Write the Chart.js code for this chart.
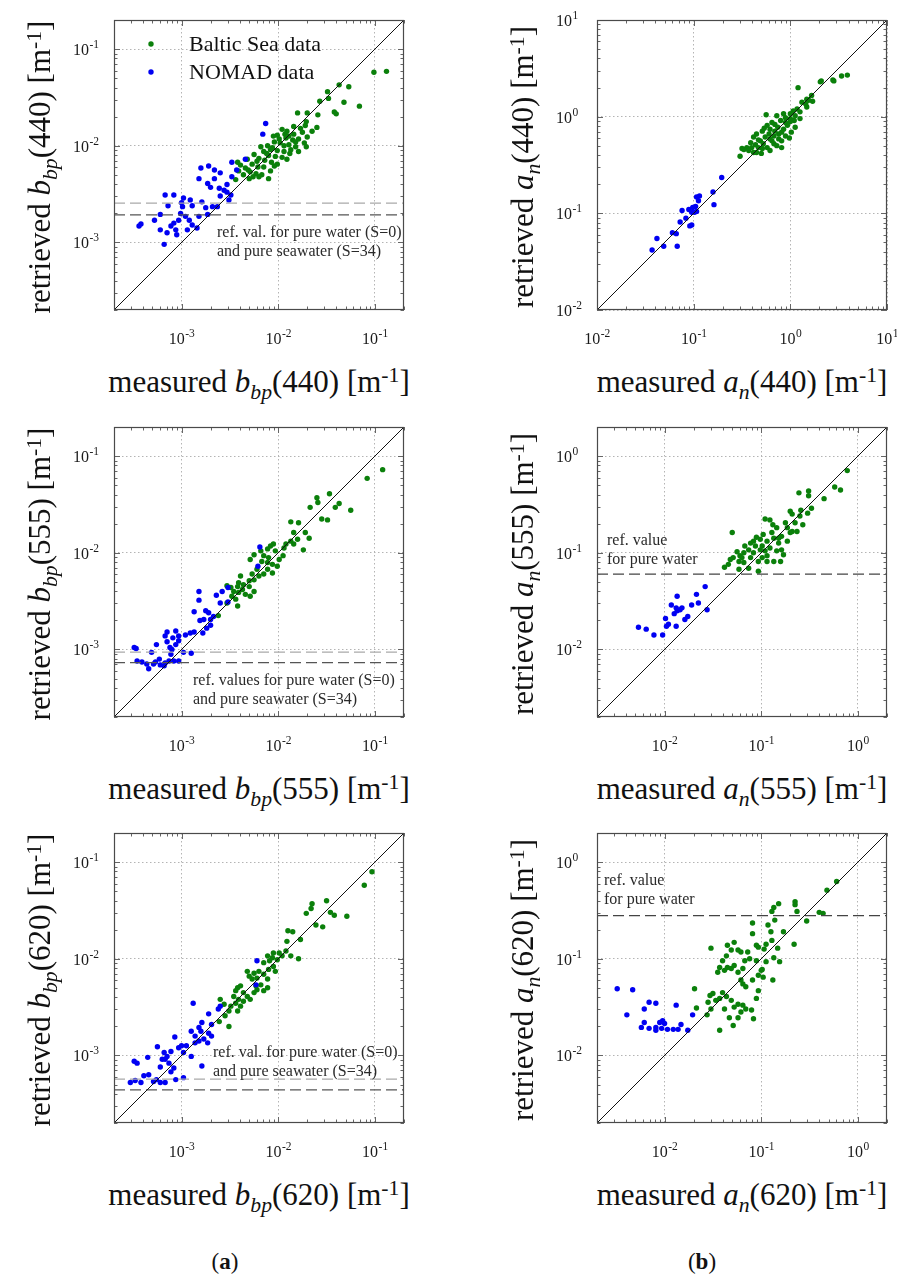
<!DOCTYPE html>
<html>
<head>
<meta charset="utf-8">
<title>bbp and an retrieval scatter</title>
<script src="https://cdn.jsdelivr.net/npm/chart.js@4.4.1/dist/chart.umd.min.js"></script>
<style>
  html, body { margin: 0; background: #fff; }
  #fig { position: relative; width: 899px; height: 1275px; overflow: hidden;
         font-family: "Liberation Serif", "Times New Roman", serif; color: #111; }
  #fig canvas { position: absolute; }
  .xt, .yt { position: absolute; width: 500px; height: 40px; line-height: 40px;
             font-size: 31px; white-space: nowrap; text-align: center; }
  .yt { transform: rotate(-90deg); }
  .xt sub, .yt sub, .xt sup, .yt sup { font-size: 70%; line-height: 0; position: relative; vertical-align: baseline; }
  .xt sub, .yt sub { top: 0.33em; }
  .xt sup, .yt sup { top: -0.42em; }
  .tag { position: absolute; width: 80px; height: 30px; line-height: 30px; font-size: 23px; text-align: center; }
</style>
</head>
<body>
<div id="fig"></div>
<script>
// values are log10 of the coefficient in m^-1, pairs are [measured, retrieved]
const bbp440Baltic = [[-1.01,-1.24],[-0.88,-1.23],[-1.37,-1.37],[-1.27,-1.39],[-1.49,-1.44],[-1.48,-1.51],[-1.57,-1.54],[-1.32,-1.55],[-1.16,-1.59],[-1.42,-1.65],[-1.40,-1.67],[-1.80,-1.66],[-1.70,-1.66],[-1.59,-1.68],[-1.71,-1.75],[-1.72,-1.79],[-1.60,-1.81],[-1.65,-1.85],
  [-1.96,-1.83],[-1.91,-1.85],[-1.84,-1.88],[-1.75,-1.86],[-2.01,-1.89],[-1.92,-1.92],[-1.85,-1.94],[-1.79,-1.93],[-1.73,-1.97],[-2.04,-1.96],[-1.98,-1.97],[-1.89,-1.99],[-1.82,-2.01],[-2.11,-2.00],[-2.06,-2.02],[-2.01,-2.05],[-1.94,-2.06],[-1.87,-2.04],[-2.18,-2.01],[-2.15,-2.06],[-2.10,-2.10],[-2.03,-2.11],[-1.96,-2.12],[-1.91,-2.14],[-2.25,-2.09],[-2.20,-2.13],[-2.14,-2.15],[-2.07,-2.17],[-2.01,-2.19],[-2.32,-2.14],[-2.27,-2.19],[-2.21,-2.22],[-2.15,-2.22],[-2.08,-2.26],[-2.39,-2.20],[-2.34,-2.23],[-2.29,-2.27],[-2.23,-2.29],[-2.17,-2.30],[-2.10,-2.34],[-2.41,-2.26],[-2.36,-2.30],[-2.30,-2.34],[-2.42,-2.17],[-2.26,-2.32],[-1.84,-1.80],[-1.77,-1.82],[-1.70,-1.91],[-1.71,-2.01],[-1.89,-1.90],[-2.05,-1.90],[-1.94,-2.00],[-1.79,-2.06],[-2.20,-2.32],[-2.04,-2.21],[-2.44,-2.35],
  [-1.99,-1.93],[-2.12,-2.08],[-1.88,-2.08],[-2.22,-2.16],[-2.31,-2.25],[-1.93,-1.88],[-2.08,-2.04],[-1.82,-1.96]];
const bbp440Nomad = [[-2.13,-1.77],[-2.16,-1.88],[-2.34,-2.14],[-2.43,-2.25],[-2.80,-2.23],[-2.72,-2.21],[-2.66,-2.25],[-2.60,-2.28],[-2.82,-2.34],[-2.73,-2.39],[-2.66,-2.34],[-2.70,-2.43],[-2.61,-2.44],[-2.56,-2.46],[-2.53,-2.48],[-2.49,-2.51],[-2.60,-2.52],[-2.51,-2.56],[-2.68,-2.63],[-2.75,-2.64],[-2.73,-2.71],[-2.63,-2.63],[-2.82,-2.73],[-2.89,-2.62],[-2.91,-2.56],[-2.98,-2.54],[-2.99,-2.63],[-3.08,-2.51],[-3.17,-2.51],[-3.14,-2.62],[-3.01,-2.70],[-2.96,-2.73],[-2.92,-2.77],[-2.89,-2.82],[-3.03,-2.77],[-3.08,-2.80],[-3.11,-2.83],[-3.06,-2.87],[-3.15,-2.90],[-3.05,-2.92],[-2.94,-2.87],[-2.84,-2.85],[-3.22,-2.71],[-3.28,-2.77],[-3.22,-2.87],[-3.42,-2.81],[-3.44,-2.83],[-3.18,-3.02],[-3.00,-2.59],[-2.79,-2.58],[-2.53,-2.40],[-2.48,-2.32],[-2.48,-2.17]];

const an440Baltic = [[0.59,0.43],[0.53,0.42],[0.45,0.37],[0.31,0.36],[0.08,0.30],[0.22,0.22],[0.23,0.16],[0.17,0.18],[0.12,0.15],[0.17,0.10],[0.07,0.08],[0.03,0.06],[0.10,-0.02],[0.00,0.03],[-0.07,0.03],[-0.14,0.01],[-0.25,0.02],[0.04,-0.04],[0.00,-0.05],[0.05,-0.11],[0.01,-0.16],[-0.01,-0.22],[-0.09,-0.32],[-0.09,-0.25],[-0.12,-0.23],[-0.17,-0.20],[-0.21,-0.13],[-0.16,-0.08],[-0.10,-0.04],[-0.05,-0.06],[-0.19,-0.06],[-0.24,-0.09],[-0.29,-0.15],[-0.35,-0.18],[-0.38,-0.21],[-0.41,-0.27],[-0.45,-0.32],[-0.50,-0.33],[-0.48,-0.34],[-0.52,-0.41],[-0.35,-0.37],[-0.29,-0.33],[-0.24,-0.32],[-0.21,-0.35],[-0.17,-0.28],[-0.14,-0.30],[-0.26,-0.21],[-0.22,-0.18],[-0.31,-0.25],[-0.36,-0.29],[-0.40,-0.32],[-0.28,-0.28],[-0.19,-0.25],[-0.12,-0.18],[-0.07,-0.13],[-0.03,-0.09],[-0.09,-0.16],[-0.16,-0.15],[-0.21,-0.23],[-0.33,-0.32],[-0.43,-0.35],[-0.38,-0.37],[0.00,-0.02],[0.05,0.01],[-0.05,-0.01],[0.10,0.05],[0.16,0.13],[0.19,0.17],[0.44,0.38],[0.32,0.37],
  [-0.27,-0.12],[-0.13,-0.11],[-0.33,-0.24],[-0.05,-0.20],[-0.30,-0.38]];
const an440Nomad = [[-0.71,-0.63],[-0.80,-0.78],[-0.79,-0.91],[-0.94,-0.82],[-0.97,-0.83],[-0.95,-0.87],[-0.98,-0.93],[-0.97,-0.98],[-1.02,-0.99],[-1.01,-0.94],[-1.02,-1.12],[-1.43,-1.38],[-1.38,-1.26],[-1.31,-1.34],[-1.22,-1.20],[-1.18,-1.21],[-1.17,-1.34],[-1.14,-1.09],[-1.12,-0.97],[-1.05,-0.96],[-1.08,-1.05],[-1.04,-1.13],[-0.99,-0.99]];

const bbp555Baltic = [[-0.92,-1.14],[-1.08,-1.23],[-1.47,-1.39],[-1.60,-1.43],[-1.59,-1.48],[-1.67,-1.53],[-1.37,-1.49],[-1.41,-1.53],[-1.25,-1.56],[-1.55,-1.65],[-1.49,-1.66],[-1.87,-1.68],[-1.79,-1.69],[-1.84,-1.79],[-1.72,-1.79],[-1.68,-1.85],[-1.74,-1.97],[-1.80,-1.86],[-1.87,-1.88],[-1.92,-1.91],[-1.94,-1.95],[-1.84,-1.91],[-1.95,-2.03],[-2.05,-1.91],[-2.08,-1.93],[-2.11,-1.96],[-2.03,-1.98],[-1.99,-2.07],[-2.01,-2.14],[-2.06,-2.12],[-2.10,-2.05],[-2.15,-2.03],[-2.17,-2.09],[-2.11,-2.17],[-2.06,-2.21],[-2.15,-2.22],[-2.22,-2.17],[-2.20,-2.24],[-2.27,-2.22],[-2.25,-2.28],[-2.30,-2.29],[-2.29,-2.07],[-2.25,-2.02],[-2.18,-1.98],[-2.30,-2.35],[-2.36,-2.33],[-2.41,-2.31],[-2.37,-2.38],[-2.42,-2.35],[-2.46,-2.40],[-2.41,-2.41],[-2.34,-2.43],[-2.29,-2.45],[-2.48,-2.45],[-2.44,-2.48],[-2.49,-2.36],[-2.53,-2.34],[-2.39,-2.24],[-2.25,-2.40],[-2.42,-2.55],[-2.53,-2.52],[-2.62,-2.65],[-2.11,-2.10]];
const bbp555Nomad = [[-2.19,-1.94],[-2.21,-2.14],[-2.52,-2.36],[-2.58,-2.40],[-2.64,-2.44],[-2.60,-2.52],[-2.52,-2.51],[-2.82,-2.40],[-2.82,-2.49],[-2.87,-2.61],[-2.75,-2.60],[-2.72,-2.62],[-2.67,-2.66],[-2.70,-2.69],[-2.77,-2.69],[-2.81,-2.70],[-2.70,-2.75],[-2.74,-2.78],[-2.78,-2.83],[-2.87,-2.82],[-2.91,-2.83],[-2.96,-2.85],[-3.03,-2.86],[-3.06,-2.81],[-3.15,-2.82],[-3.17,-2.86],[-3.09,-2.88],[-3.03,-2.91],[-3.06,-2.95],[-3.12,-2.98],[-3.10,-3.00],[-3.15,-2.92],[-3.26,-2.95],[-3.31,-3.03],[-3.49,-2.98],[-3.47,-2.99],[-3.46,-3.12],[-3.41,-3.13],[-3.36,-3.15],[-3.34,-3.20],[-3.27,-3.13],[-3.23,-3.10],[-3.22,-3.16],[-3.17,-3.14],[-3.13,-3.12],[-3.18,-3.17],[-3.08,-3.12],[-3.03,-3.12],[-2.98,-3.03],[-2.90,-3.04],[-3.11,-3.05],[-3.29,-3.15]];

const an555Baltic = [[-0.11,-0.15],[-0.18,-0.35],[-0.24,-0.32],[-0.35,-0.44],[-0.51,-0.36],[-0.51,-0.41],[-0.61,-0.38],[-0.48,-0.54],[-0.59,-0.56],[-0.70,-0.57],[-0.60,-0.62],[-0.68,-0.60],[-0.52,-0.59],[-0.57,-0.71],[-0.65,-0.69],[-0.75,-0.69],[-0.73,-0.74],[-0.68,-0.78],[-0.73,-0.88],[-0.79,-0.83],[-0.82,-0.90],[-0.79,-0.97],[-0.84,-0.98],[-0.77,-1.02],[-0.80,-1.09],[-0.87,-1.09],[-0.94,-1.03],[-0.91,-0.95],[-0.87,-0.85],[-0.94,-0.88],[-0.96,-0.65],[-0.91,-0.66],[-0.84,-0.74],[-0.89,-0.79],[-0.98,-0.81],[-1.01,-0.86],[-1.05,-0.84],[-1.08,-0.88],[-1.11,-0.90],[-1.06,-0.93],[-0.99,-0.93],[-0.96,-0.98],[-0.99,-1.05],[-1.03,-1.09],[-0.94,-1.09],[-1.08,-1.00],[-1.13,-0.97],[-1.17,-0.93],[-1.18,-1.00],[-1.22,-1.03],[-1.25,-0.99],[-1.29,-1.05],[-1.32,-1.07],[-1.23,-1.09],[-1.18,-1.10],[-1.20,-1.05],[-1.13,-1.16],[-1.03,-1.19],[-1.23,-1.17],[-1.30,-0.79],[-1.38,-1.15],[-1.34,-1.12],[-1.11,-1.05],[-1.01,-0.97],[-0.70,-0.79],[-0.63,-0.78],[-0.88,-0.71],[-0.82,-0.85]];
const an555Nomad = [[-1.58,-1.35],[-1.56,-1.59],[-1.67,-1.43],[-1.65,-1.52],[-1.72,-1.54],[-1.87,-1.45],[-1.93,-1.54],[-1.88,-1.57],[-1.84,-1.59],[-1.82,-1.57],[-1.87,-1.60],[-1.90,-1.63],[-1.76,-1.66],[-1.79,-1.69],[-1.99,-1.68],[-1.96,-1.74],[-1.98,-1.76],[-1.88,-1.76],[-2.02,-1.85],[-2.11,-1.85],[-2.19,-1.79],[-2.27,-1.77]];

const bbp620Baltic = [[-1.03,-1.10],[-1.11,-1.24],[-1.29,-1.56],[-1.50,-1.40],[-1.65,-1.43],[-1.66,-1.48],[-1.71,-1.53],[-1.46,-1.52],[-1.42,-1.55],[-1.61,-1.65],[-1.54,-1.67],[-1.90,-1.71],[-1.85,-1.72],[-1.77,-1.80],[-1.91,-1.82],[-1.79,-2.00],[-1.87,-1.97],[-1.92,-1.92],[-1.96,-1.97],[-1.99,-1.94],[-2.05,-1.94],[-2.01,-2.01],[-2.06,-1.99],[-2.11,-1.97],[-2.09,-2.02],[-2.15,-2.04],[-2.05,-2.08],[-2.10,-2.11],[-2.03,-2.13],[-2.15,-2.16],[-2.20,-2.13],[-2.25,-2.15],[-2.32,-2.13],[-2.22,-2.20],[-2.27,-2.21],[-2.30,-2.18],[-2.11,-2.21],[-2.18,-2.27],[-2.11,-2.30],[-2.15,-2.33],[-2.23,-2.28],[-2.25,-2.35],[-2.22,-2.32],[-2.42,-2.30],[-2.39,-2.28],[-2.44,-2.33],[-2.36,-2.35],[-2.32,-2.39],[-2.29,-2.42],[-2.41,-2.42],[-2.46,-2.39],[-2.36,-2.44],[-2.44,-2.46],[-2.39,-2.49],[-2.49,-2.49],[-2.51,-2.54],[-2.60,-2.42],[-2.56,-2.47],[-2.55,-2.59],[-2.61,-2.65],[-2.51,-2.70],[-2.42,-2.54]];
const bbp620Nomad = [[-2.22,-2.02],[-2.23,-2.27],[-2.88,-2.46],[-2.60,-2.49],[-2.62,-2.52],[-2.72,-2.57],[-2.79,-2.66],[-2.82,-2.71],[-2.80,-2.75],[-2.90,-2.75],[-2.86,-2.80],[-2.69,-2.68],[-2.72,-2.77],[-2.77,-2.83],[-2.82,-2.85],[-2.73,-2.87],[-2.69,-2.80],[-3.07,-2.81],[-3.25,-2.91],[-3.00,-2.90],[-3.03,-2.92],[-2.98,-2.97],[-2.90,-3.01],[-3.11,-2.96],[-3.18,-2.97],[-3.15,-3.01],[-3.20,-3.04],[-3.13,-3.08],[-3.22,-3.12],[-3.08,-3.13],[-3.17,-3.04],[-3.35,-3.02],[-3.49,-3.06],[-3.46,-3.08],[-3.34,-3.20],[-3.39,-3.21],[-3.26,-3.25],[-3.53,-3.28],[-3.48,-3.26],[-3.42,-3.28],[-3.29,-3.27],[-3.22,-3.28],[-3.06,-3.25],[-2.98,-3.23],[-2.79,-3.11],[-2.86,-2.87],[-2.95,-2.90],[-3.17,-3.28],[-3.11,-3.17]];

const an620Baltic = [[-0.22,-0.20],[-0.32,-0.29],[-0.65,-0.41],[-0.65,-0.44],[-0.82,-0.43],[-0.87,-0.47],[-0.89,-0.51],[-0.63,-0.51],[-0.40,-0.52],[-0.36,-0.53],[-0.53,-0.61],[-1.09,-0.63],[-0.93,-0.65],[-0.86,-0.60],[-1.09,-0.74],[-0.90,-0.72],[-0.77,-0.72],[-0.66,-0.85],[-0.83,-0.89],[-0.89,-0.81],[-0.95,-0.85],[-1.05,-0.86],[-1.03,-0.88],[-0.97,-0.90],[-1.28,-0.83],[-1.35,-0.86],[-1.52,-0.89],[-1.31,-0.91],[-1.24,-0.91],[-1.21,-0.93],[-1.14,-0.93],[-1.17,-1.02],[-1.12,-1.00],[-1.36,-0.97],[-1.40,-1.02],[-1.35,-1.09],[-1.43,-1.09],[-1.45,-1.14],[-1.38,-1.12],[-1.31,-1.10],[-1.28,-1.07],[-1.24,-1.14],[-1.19,-1.10],[-1.21,-1.22],[-1.19,-1.26],[-1.16,-1.29],[-1.09,-1.22],[-1.03,-1.17],[-1.00,-1.12],[-0.98,-1.19],[-1.03,-1.33],[-1.05,-1.41],[-1.10,-1.53],[-1.08,-1.62],[-1.16,-1.52],[-1.21,-1.55],[-1.19,-1.48],[-1.24,-1.47],[-1.28,-1.50],[-1.31,-1.43],[-1.36,-1.39],[-1.40,-1.35],[-1.43,-1.41],[-1.38,-1.52],[-1.33,-1.61],[-1.24,-1.61],[-1.29,-1.69],[-1.43,-1.74],[-1.47,-1.43],[-1.50,-1.36],[-1.53,-1.38],[-1.55,-1.45],[-1.52,-1.52],[-1.56,-1.58],[-1.67,-1.51],[-1.69,-1.31],[-1.05,-1.02],[-0.95,-1.03],[-0.87,-0.99],[-0.81,-1.03],[-0.88,-1.22],[-0.99,-1.11]];
const an620Nomad = [[-2.49,-1.31],[-2.33,-1.32],[-2.16,-1.45],[-2.09,-1.46],[-2.21,-1.52],[-1.88,-1.48],[-2.39,-1.58],[-1.71,-1.58],[-2.21,-1.66],[-2.24,-1.71],[-2.16,-1.72],[-2.09,-1.71],[-2.05,-1.66],[-2.02,-1.64],[-2.00,-1.67],[-2.03,-1.72],[-1.97,-1.73],[-1.91,-1.73],[-1.83,-1.68],[-1.86,-1.73],[-1.76,-1.74],[-2.09,-1.74]];

// reference levels (m^-1): pure water / pure seawater
const bbp440Ref = [2.55e-3, 1.93e-3];
const bbp555Ref = [9.4e-4, 7.3e-4];
const bbp620Ref = [5.7e-4, 4.4e-4];
const an555Ref = [0.060];
const an620Ref = [0.28];

// axis limits and labelled decades
const bbpRange = [2e-4, 0.2];
const an440Range = [1e-2, 10];
const anRange = [2e-3, 2];
const bbpDecades = [-3, -2, -1];
const an440Decades = [-2, -1, 0, 1];
const anDecades = [-2, -1, 0];

const seriesNames = ['Baltic Sea data', 'NOMAD data'];
const bands = ['440', '555', '620'];
const noteRefVal = ['ref. val. for pure water (S=0)', 'and pure seawater (S=34)'];
const noteRefValues = ['ref. values for pure water (S=0)', 'and pure seawater (S=34)'];
const notePureWater = ['ref. value', 'for pure water'];

const GREEN = '#0b800b';
const BLUE = '#0000f2';
const SERIF = '"Liberation Serif", "Times New Roman", serif';
const DOT = 2.7;

const fig = document.getElementById('fig');

const panels = [
  { box: [114, 20], band: bands[0], sym: 'b', sub: 'bp', range: bbpRange, decades: bbpDecades,
    baltic: bbp440Baltic, nomad: bbp440Nomad, refs: bbp440Ref, note: noteRefVal, noteAt: [103, 213], legend: true },
  { box: [597, 20], band: bands[0], sym: 'a', sub: 'n', range: an440Range, decades: an440Decades,
    baltic: an440Baltic, nomad: an440Nomad, refs: [], note: [], noteAt: [0, 0] },
  { box: [114, 427], band: bands[1], sym: 'b', sub: 'bp', range: bbpRange, decades: bbpDecades,
    baltic: bbp555Baltic, nomad: bbp555Nomad, refs: bbp555Ref, note: noteRefValues, noteAt: [79, 254] },
  { box: [597, 427], band: bands[1], sym: 'a', sub: 'n', range: anRange, decades: anDecades,
    baltic: an555Baltic, nomad: an555Nomad, refs: an555Ref, note: notePureWater, noteAt: [10, 114] },
  { box: [114, 833], band: bands[2], sym: 'b', sub: 'bp', range: bbpRange, decades: bbpDecades,
    baltic: bbp620Baltic, nomad: bbp620Nomad, refs: bbp620Ref, note: noteRefVal, noteAt: [99, 220] },
  { box: [597, 833], band: bands[2], sym: 'a', sub: 'n', range: anRange, decades: anDecades,
    baltic: an620Baltic, nomad: an620Nomad, refs: an620Ref, note: notePureWater, noteAt: [7, 48] }
];

const PAD = { left: 60, top: 20, right: 10, bottom: 45 };
const SIDE = 290;

function toPoints(pairs) {
  return pairs.map(([lx, ly]) => ({ x: Math.pow(10, lx), y: Math.pow(10, ly) }));
}

// 1..9 x 10^n inside the range, decades flagged as major
function logTicks(range) {
  const out = [];
  const e0 = Math.floor(Math.log10(range[0])), e1 = Math.ceil(Math.log10(range[1]));
  for (let e = e0; e <= e1; e++) {
    for (let m = 1; m <= 9; m++) {
      const v = m * Math.pow(10, e);
      if (v >= range[0] * 0.999 && v <= range[1] * 1.001) out.push({ v, major: m === 1 });
    }
  }
  return out;
}

function powerLabel(ctx, x, y, exp, align) {
  const base = '10', sup = String(exp);
  const big = '16px ' + SERIF, small = '11.5px ' + SERIF;
  ctx.font = big;
  const wb = ctx.measureText(base).width;
  ctx.font = small;
  const ws = ctx.measureText(sup).width;
  const x0 = align === 'center' ? x - (wb + ws) / 2 : x;
  ctx.font = big;
  ctx.fillText(base, x0, y);
  ctx.font = small;
  ctx.fillText(sup, x0 + wb + 0.5, y - 7);
}

const panelDecor = {
  id: 'panelDecor',
  afterDraw(chart, args, o) {
    const { ctx, chartArea: a, scales: { x, y } } = chart;
    ctx.save();

    // inward ticks on every side of the box
    ctx.strokeStyle = '#666';
    ctx.lineWidth = 1;
    ctx.beginPath();
    for (const t of logTicks(o.range)) {
      const len = t.major ? 6 : 3.5;
      const px = Math.round(x.getPixelForValue(t.v)) + 0.5;
      const py = Math.round(y.getPixelForValue(t.v)) + 0.5;
      ctx.moveTo(px, a.bottom); ctx.lineTo(px, a.bottom - len);
      ctx.moveTo(px, a.top); ctx.lineTo(px, a.top + len);
      ctx.moveTo(a.left, py); ctx.lineTo(a.left + len, py);
      ctx.moveTo(a.right, py); ctx.lineTo(a.right - len, py);
    }
    ctx.stroke();

    ctx.strokeStyle = '#4a4a4a';
    ctx.lineWidth = 1.2;
    ctx.strokeRect(a.left + 0.5, a.top + 0.5, a.width - 1, a.height - 1);

    // tick labels
    ctx.fillStyle = '#1a1a1a';
    ctx.textAlign = 'left';
    ctx.textBaseline = 'alphabetic';
    for (const d of o.decades) {
      powerLabel(ctx, x.getPixelForValue(Math.pow(10, d)), a.bottom + 34, d, 'center');
      powerLabel(ctx, a.left - 41, y.getPixelForValue(Math.pow(10, d)) + 6, d, 'left');
    }

    // reference-value note
    ctx.font = '16px ' + SERIF;
    ctx.fillStyle = '#2a2a2a';
    ctx.textBaseline = 'middle';
    o.note.forEach((line, i) => ctx.fillText(line, a.left + o.noteAt[0], a.top + o.noteAt[1] + i * 19));

    // legend
    if (o.legend) {
      ctx.font = '22px ' + SERIF;
      [[GREEN, seriesNames[0], 25], [BLUE, seriesNames[1], 53]].forEach(([c, label, dy]) => {
        ctx.fillStyle = c;
        ctx.beginPath();
        ctx.arc(a.left + 37, a.top + dy - 1, DOT, 0, Math.PI * 2);
        ctx.fill();
        ctx.fillStyle = '#111';
        ctx.fillText(label, a.left + 75, a.top + dy);
      });
    }
    ctx.restore();
  }
};

function logAxis(range, decades, horizontal) {
  return {
    type: 'logarithmic',
    min: range[0],
    max: range[1],
    bounds: 'data',
    afterBuildTicks: s => { s.ticks = decades.map(d => ({ value: Math.pow(10, d) })); },
    afterFit: s => { if (horizontal) s.height = 0; else s.width = 0; },
    ticks: { display: false },
    grid: { color: '#b4b4b4', lineWidth: 1, drawTicks: false },
    border: { display: false, dash: [1.5, 2.5] }
  };
}

function quantityHtml(prefix, p) {
  return `${prefix} <i>${p.sym}</i><sub><i>${p.sub}</i></sub>(${p.band}) [m<sup>-1</sup>]`;
}

function buildPanel(p) {
  const [bx, by] = p.box;
  const canvas = document.createElement('canvas');
  const w = SIDE + PAD.left + PAD.right, h = SIDE + PAD.top + PAD.bottom;
  canvas.width = w; canvas.height = h;
  canvas.style.width = w + 'px'; canvas.style.height = h + 'px';
  canvas.style.left = (bx - PAD.left) + 'px';
  canvas.style.top = (by - PAD.top) + 'px';
  fig.appendChild(canvas);

  const r = p.range;
  const refColors = p.refs.length > 1 ? ['#a9a9a9', '#555'] : ['#444'];
  const datasets = [
    { data: [{ x: r[0], y: r[0] }, { x: r[1], y: r[1] }], showLine: true,
      borderColor: '#111', borderWidth: 1, pointRadius: 0 },
    ...p.refs.map((v, i) => ({
      data: [{ x: r[0], y: v }, { x: r[1], y: v }], showLine: true,
      borderColor: refColors[i], borderWidth: 1.2, borderDash: [11, 5], pointRadius: 0
    })),
    { label: seriesNames[1], data: toPoints(p.nomad), backgroundColor: BLUE, borderWidth: 0, pointRadius: DOT },
    { label: seriesNames[0], data: toPoints(p.baltic), backgroundColor: GREEN, borderWidth: 0, pointRadius: DOT }
  ];

  new Chart(canvas, {
    type: 'scatter',
    data: { datasets },
    options: {
      responsive: false,
      animation: false,
      devicePixelRatio: 1,
      layout: { padding: PAD },
      scales: { x: logAxis(r, p.decades, true), y: logAxis(r, p.decades, false) },
      plugins: {
        legend: { display: false },
        tooltip: { enabled: false },
        panelDecor: { range: r, decades: p.decades, note: p.note, noteAt: p.noteAt, legend: !!p.legend }
      }
    },
    plugins: [panelDecor]
  });

  const xt = document.createElement('div');
  xt.className = 'xt';
  xt.innerHTML = quantityHtml('measured', p);
  xt.style.left = (bx + SIDE / 2 - 250) + 'px';
  xt.style.top = (by + SIDE + 82 - 30.5) + 'px';
  fig.appendChild(xt);

  const yt = document.createElement('div');
  yt.className = 'yt';
  yt.innerHTML = quantityHtml('retrieved', p);
  yt.style.left = (bx - 74.5 - 250) + 'px';
  yt.style.top = (by + 147 - 20) + 'px';
  fig.appendChild(yt);
}

panels.forEach(buildPanel);

[['(<b>a</b>)', 225], ['(<b>b</b>)', 702]].forEach(([html, cx]) => {
  const t = document.createElement('div');
  t.className = 'tag';
  t.innerHTML = html;
  t.style.left = (cx - 40) + 'px';
  t.style.top = '1247px';
  fig.appendChild(t);
});
</script>
</body>
</html>
